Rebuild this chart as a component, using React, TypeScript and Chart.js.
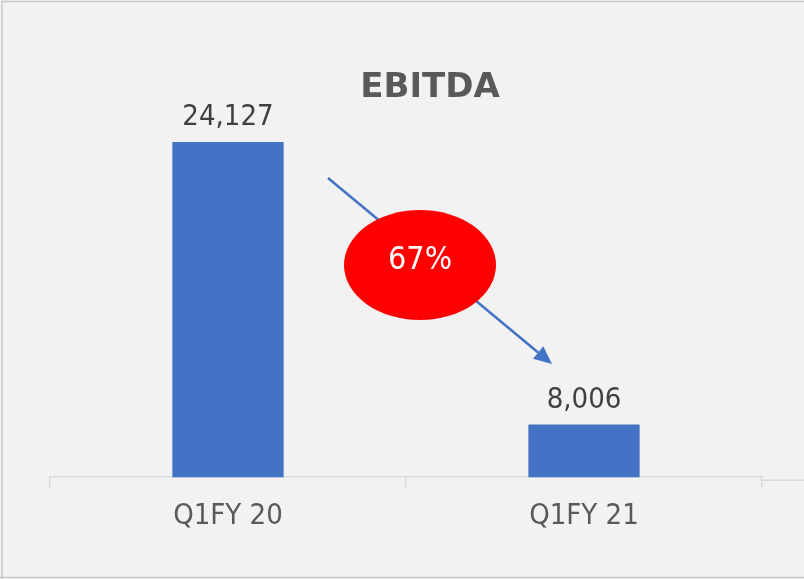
import React, { useEffect, useRef } from "react";
import { Chart, registerables } from "chart.js";

Chart.register(...registerables);

const categories = ["Q1FY 20", "Q1FY 21"];
const ebitdaValues = [24127, 8006];
const valueLabels = ["24,127", "8,006"];
const changeLabel = "67%";
const titleText = "EBITDA";

const FONT = '"DejaVu Sans Condensed", "DejaVu Sans", sans-serif';

const decorPlugin = {
  id: "decor",
  beforeDraw(chart: any) {
    const { ctx, width, height } = chart;
    ctx.save();
    ctx.fillStyle = "#f2f2f2";
    ctx.fillRect(0, 0, width, height);
    ctx.strokeStyle = "#c9c9c9";
    ctx.lineWidth = 1.5;
    ctx.beginPath();
    ctx.moveTo(2, height);
    ctx.lineTo(2, 1.5);
    ctx.lineTo(width, 1.5);
    ctx.moveTo(0, height - 1.5);
    ctx.lineTo(width, height - 1.5);
    ctx.stroke();
    ctx.restore();
  },
  afterDraw(chart: any) {
    const { ctx, chartArea } = chart;
    const xs = chart.scales.x;
    const ys = chart.scales.y;
    ctx.save();
    // extra axis stub to the right
    ctx.strokeStyle = "#d9d9d9";
    ctx.lineWidth = 1.5;
    ctx.beginPath();
    ctx.moveTo(chartArea.right, chartArea.bottom + 3);
    ctx.lineTo(chart.width, chartArea.bottom + 3);
    ctx.stroke();

    // title
    ctx.fillStyle = "#595959";
    ctx.font = 'bold 34px "DejaVu Sans", sans-serif';
    ctx.textAlign = "center";
    ctx.textBaseline = "middle";
    ctx.fillText(titleText, 430, 88);

    // value labels
    ctx.fillStyle = "#404040";
    ctx.font = "29px " + FONT;
    ctx.textBaseline = "alphabetic";
    ebitdaValues.forEach((v, i) => {
      const x = xs.getPixelForValue(i);
      const y = ys.getPixelForValue(v);
      ctx.fillText(valueLabels[i], x, y - 17);
    });

    // arrow
    const x0 = xs.getPixelForValue(0) + 100;
    const y0 = 178;
    const x1 = xs.getPixelForValue(1) - 32;
    const y1 = 364;
    const ang = Math.atan2(y1 - y0, x1 - x0);
    const headLen = 18;
    ctx.strokeStyle = "#4472C4";
    ctx.fillStyle = "#4472C4";
    ctx.lineWidth = 2.5;
    ctx.beginPath();
    ctx.moveTo(x0, y0);
    ctx.lineTo(x1 - headLen * Math.cos(ang), y1 - headLen * Math.sin(ang));
    ctx.stroke();
    ctx.beginPath();
    ctx.moveTo(x1, y1);
    ctx.lineTo(
      x1 - headLen * Math.cos(ang) + 8 * Math.sin(ang),
      y1 - headLen * Math.sin(ang) - 8 * Math.cos(ang)
    );
    ctx.lineTo(
      x1 - headLen * Math.cos(ang) - 8 * Math.sin(ang),
      y1 - headLen * Math.sin(ang) + 8 * Math.cos(ang)
    );
    ctx.closePath();
    ctx.fill();

    // ellipse
    const cx = (xs.getPixelForValue(0) + xs.getPixelForValue(1)) / 2 + 14;
    const cy = 265;
    ctx.fillStyle = "#ff0000";
    ctx.beginPath();
    ctx.ellipse(cx, cy, 76, 55, 0, 0, Math.PI * 2);
    ctx.fill();
    ctx.fillStyle = "#ffffff";
    ctx.font = "32px " + FONT;
    ctx.textBaseline = "middle";
    ctx.fillText(changeLabel, cx, cy - 4);
    ctx.restore();
  },
};

export default function App() {
  const ref = useRef<HTMLCanvasElement>(null);
  useEffect(() => {
    document.body.style.margin = "0";
    const chart = new Chart(ref.current!, {
      type: "bar",
      data: {
        labels: categories,
        datasets: [
          {
            data: ebitdaValues,
            backgroundColor: "#4472C4",
            barPercentage: 0.625,
            categoryPercentage: 0.5,
          },
        ],
      },
      options: {
        responsive: false,
        animation: false,
        layout: { padding: { left: 50, right: 42, top: 39, bottom: 33 } },
        plugins: {
          legend: { display: false },
          title: { display: false },
          tooltip: { enabled: false },
        },
        scales: {
          x: {
            grid: {
              offset: true,
              drawOnChartArea: false,
              drawTicks: true,
              tickLength: 10,
              color: "#d9d9d9",
              lineWidth: 1.5,
            },
            border: { display: true, color: "#d9d9d9", width: 1.5 },
            ticks: {
              color: "#595959",
              font: { family: FONT, size: 29 },
              padding: 12,
            },
          },
          y: {
            display: false,
            min: 5000,
            max: 30000,
          },
        },
      },
      plugins: [decorPlugin],
    });
    return () => chart.destroy();
  }, []);
  return <canvas ref={ref} width={804} height={579} style={{ display: "block" }} />;
}
